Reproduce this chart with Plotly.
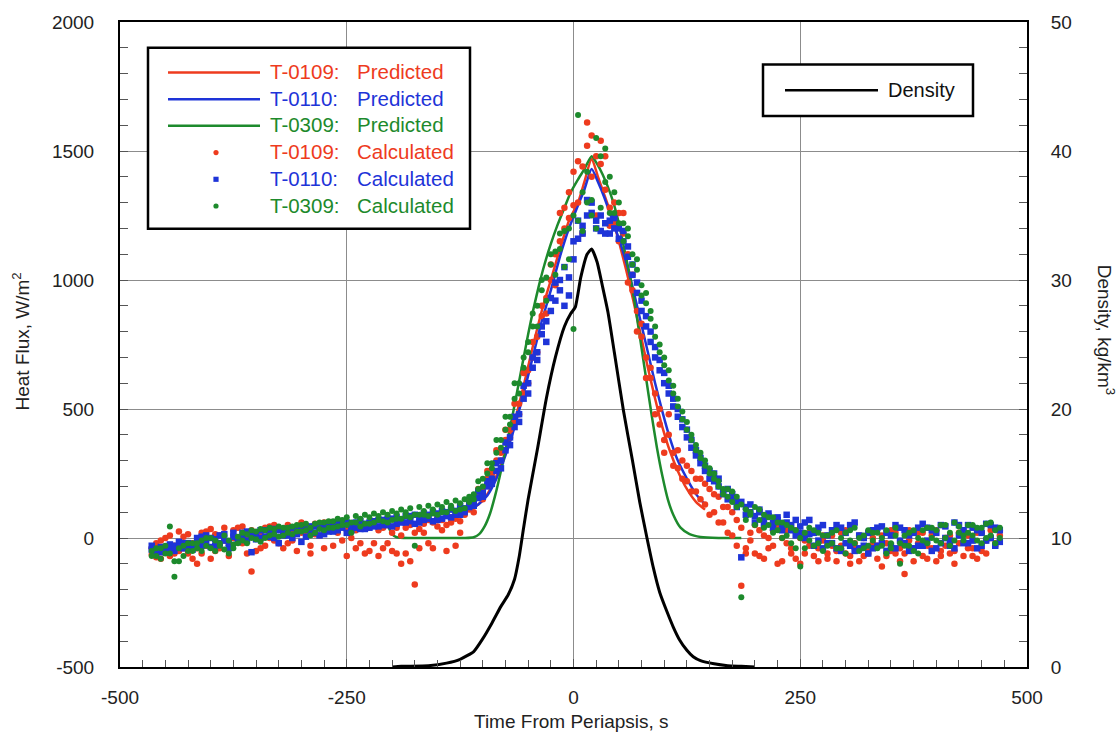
import plotly.graph_objects as go

# ---------------- data ----------------
calc_time = [
    -465, -460, -455, -450, -445, -440, -435, -430, -425, -420,
    -415, -410, -405, -400, -395, -390, -385, -380, -375, -370,
    -365, -360, -355, -350, -345, -340, -335, -330, -325, -320,
    -315, -310, -305, -300, -295, -290, -285, -280, -275, -270,
    -265, -260, -255, -250, -245, -240, -235, -230, -225, -220,
    -215, -210, -205, -200, -195, -190, -185, -180, -175, -170,
    -165, -160, -155, -150, -145, -140, -135, -130, -125, -120,
    -115, -110, -105, -100, -95, -90, -85, -80, -75, -70,
    -65, -60, -55, -50, -45, -40, -35, -30, -25, -20,
    -15, -10, -5, 0, 5, 10, 15, 20, 25, 30,
    35, 40, 45, 50, 55, 60, 65, 70, 75, 80,
    85, 90, 95, 100, 105, 110, 115, 120, 125, 130,
    135, 140, 145, 150, 155, 160, 165, 170, 175, 180,
    185, 190, 195, 200, 205, 210, 215, 220, 225, 230,
    235, 240, 245, 250, 255, 260, 265, 270, 275, 280,
    285, 290, 295, 300, 305, 310, 315, 320, 325, 330,
    335, 340, 345, 350, 355, 360, 365, 370, 375, 380,
    385, 390, 395, 400, 405, 410, 415, 420, 425, 430,
    435, 440, 445, 450, 455, 460, 465, 470,
]

# two readings per sample time (the data show short vertical streaks)
t0109_calc_a = [
    -65, -75, -10, -50, 10, -60, 25, -40, 15, -80,
    -100, 20, -30, 35, -50, 10, 40, -20, 30, -10,
    45, -60, -130, 20, -40, 40, 0, 50, -20, 30,
    50, -10, 40, 60, 20, -30, 55, 10, 60, 30,
    55, 20, 65, 30, 0, -40, 60, -60, 40, -20,
    30, -40, 50, 20, -60, -100, 40, -90, -180, 35,
    55, -20, 60, 45, 70, 50, 80, -30, 65, 90,
    110, 130, 160, 190, 230, 250, 300, 330, 380, 420,
    450, 520, 560, 650, 700, 780, 860, 930, 1000, 1100,
    1260, 1200, 1340, 1420, 1300, 1180, 1610, 1560, 1250, 1540,
    1480, 1210, 1300, 1260, 1180, 1100, 960, 880, 780, 700,
    620, 560, 440, 380, 480, 330, 270, 300, 220, 260,
    180, 230, 130, 190, 100, 160, 60, 120, 10, 70,
    -185, -40, 20, -60, 30, -80, 0, -30, 40, -90,
    -20, -60, 30, -100, -10, 20, -70, -40, 10, -80,
    -30, -90, 20, -60, -100, -20, 10, -70, -40, 0,
    -80, -110, -20, 30, -60, -90, -140, -10, -40, 20,
    -70, -30, 10, -90, -50, 0, -60, -100, -20, 30,
    -40, -70, 20, -50, -10, 30, -20, 10,
]
t0109_calc_b = [
    -40, -20, -80, 0, -70, -30, -50, 5, -60, -20,
    -40, -60, 25, -80, 15, -40, -10, -70, 0, 40,
    -20, 10, 30, -50, 20, -30, 45, -10, 35, -40,
    -20, 30, -50, 20, 45, -60, 15, 45, -40, 55,
    -30, 45, -10, -70, 50, 30, -20, 40, -50, 50,
    -70, 40, -20, -50, 40, 10, -60, 50, 20, -40,
    20, 70, -40, 80, 30, -50, 60, 75, 20, 100,
    140, 100, 190, 150, 260, 220, 340, 300, 420, 390,
    520, 480, 640, 600, 760, 720, 900, 870, 1060, 980,
    1150, 1280, 1240, 1290, 1460, 1440, 1520, 1400, 1480, 1450,
    1350, 1280, 1220, 1150, 1260, 990, 1020, 800, 830, 620,
    660, 480, 500, 330, 400, 280, 340, 230, 280, 180,
    230, 150, 210, 90, 170, 60, 120, 20, 100, -30,
    40, -60, -10, 50, -70, 10, -40, 30, -100, 0,
    30, -40, -80, 0, -60, -30, 20, -90, -10, -60,
    10, -50, -30, 30, -70, -40, -90, 0, -60, -20,
    -30, 10, -70, -50, 20, -40, -60, 30, -90, -20,
    20, -80, -40, 30, -70, -30, 10, -50, 20, -70,
    10, -40, -80, 20, -60, 0, -30, 30,
]

t0110_calc_a = [
    -45, -60, -35, -55, -25, -50, -15, -40, -20, -45,
    0, -30, 10, -35, -5, -20, 15, -40, 5, -15,
    20, -10, -55, 15, 0, 30, 5, 35, -20, 25,
    10, 40, 15, -15, 35, 20, 45, 10, 40, 25,
    50, 30, 55, 20, 45, 60, 35, 55, 40, 65,
    45, 70, 50, 75, 55, 70, 60, 85, 55, 80,
    70, 90, 65, 95, 75, 100, 80, 105, 90, 115,
    120, 140, 155, 175, 200, 230, 260, 300, 340, 390,
    430, 480, 540, 600, 660, 720, 790, 840, 880, 920,
    960, 900, 1010, 1080, 1160, 1210, 1250, 1300, 1230, 1190,
    1220, 1180, 1240, 1200, 1150, 1090, 1020, 950, 880, 820,
    760, 700, 650, 600, 560, 510, 470, 430, 390, 350,
    320, 290, 260, 230, 250, 200, 180, 190, 150, 140,
    -75, 120, 100, 85, 110, 70, 95, 60, 80, 45,
    90, 30, 70, 20, 60, 15, -30, 40, -40, 10,
    -20, 50, -50, 20, -30, 60, -40, 0, -60, 30,
    -30, 45, -50, 10, -40, 40, -20, -50, 20, -30,
    55, -10, 30, -40, 50, 0, -30, 60, 10, -20,
    50, -10, 30, -30, 55, 0, 40, -15,
]
t0110_calc_b = [
    -30, -50, -55, -35, -45, -30, -35, -20, -40, -25,
    -25, 5, -15, 0, -30, 10, -10, -20, 20, -5,
    0, 25, 10, -5, 30, 5, 25, 0, 30, 10,
    35, 0, 30, 40, 5, 45, 20, 40, 15, 50,
    25, 55, 40, 60, 30, 40, 65, 35, 60, 45,
    70, 50, 75, 45, 80, 60, 85, 65, 90, 60,
    95, 75, 100, 70, 105, 85, 110, 90, 125, 100,
    135, 125, 180, 160, 220, 210, 290, 270, 370, 360,
    470, 450, 590, 560, 700, 690, 820, 760, 930, 990,
    1000, 1050, 940, 1150, 1230, 1180, 1310, 1260, 1200, 1250,
    1180, 1230, 1200, 1160, 1190, 1130, 1060, 990, 920, 860,
    800, 740, 690, 640, 590, 540, 500, 460, 420, 380,
    340, 310, 280, 260, 220, 230, 170, 150, 170, 120,
    140, 90, 130, 60, 100, 50, 85, 40, 70, 30,
    60, 50, 10, 45, 0, 70, 20, -10, 50, -20,
    30, -40, 40, -20, 50, -50, 10, -30, 20, -40,
    40, -20, 20, -30, 50, -10, 30, 10, -40, 40,
    -30, 40, -50, 20, -20, 45, -10, -40, 50, 30,
    -20, 40, -40, 20, -10, 50, -30, 30,
]

t0309_calc_a = [
    -50, -70, -40, -60, 45, -150, -90, -30, -50, -20,
    -40, -10, -30, 0, -50, -20, 10, -60, -25, 5,
    -10, 15, 0, 25, -15, 30, 10, 35, 5, 40,
    20, 45, 25, 50, 30, 10, 55, 35, 60, 40,
    65, 45, 70, 50, 20, 60, 75, 55, 80, 60,
    85, 65, 90, 70, 95, 75, 100, 80, -30, 90,
    105, 85, 110, 90, 120, 100, 125, 105, 135, 115,
    140, 170, 190, 230, 250, 290, 330, 380, 420, 470,
    540, 600, 700, 760, 820, 900, 960, 1010, 1060, 1110,
    1180, 1050, 1200, 810, 1640, 1190, 1300, 1250, 1550, 1280,
    1510, 1400, 1260, 1300, 1220, 1170, 1100, 1040, 980, 910,
    850, 780, 720, 670, 610, 560, 510, 460, 420, 380,
    340, 310, 280, 250, 230, 200, 170, 190, 140, 160,
    -230, 110, 90, 120, 70, 90, 50, 80, 30, 60,
    10, 40, -40, -110, 20, -10, 30, -20, 10, -30,
    20, -40, 0, -60, 30, -20, -50, 10, -30, 20,
    -40, 0, -60, -20, 10, -100, -30, 20, -50, 0,
    30, -20, 40, -10, 50, 0, -30, 60, 20, -10,
    50, 10, 40, -20, 55, 10, 30, 0,
]
t0309_calc_b = [
    -70, -40, -80, -30, -60, -90, -40, -70, -20, -50,
    -20, -50, 0, -40, -10, -30, -45, -10, -40, -20,
    20, -20, 30, -5, 35, 0, 40, 15, 45, 10,
    40, 15, 50, 25, 55, 40, 20, 60, 30, 65,
    40, 75, 50, 80, 60, 85, 45, 90, 55, 95,
    70, 100, 60, 105, 75, 110, 85, 115, 90, 120,
    90, 125, 95, 130, 100, 140, 115, 145, 110, 150,
    160, 150, 220, 200, 290, 270, 380, 350, 470, 440,
    600, 560, 660, 720, 870, 820, 1000, 920, 1100, 1020,
    1120, 1190, 1080, 1250, 1230, 1340, 1420, 1310, 1200, 1480,
    1380, 1260, 1340, 1220, 1150, 1200, 1060, 1080, 940, 950,
    880, 820, 750, 700, 650, 590, 540, 490, 450, 400,
    360, 330, 300, 270, 250, 220, 190, 160, 180, 120,
    130, 70, 100, 50, 110, 40, 80, 20, 60, 0,
    50, -20, 30, 0, -40, 40, -30, 20, -50, 10,
    -20, 30, -40, 20, -10, 40, 0, -40, 30, -10,
    20, -30, 30, -40, 40, -20, 10, -30, 30, -60,
    -10, 40, 0, 30, -20, 50, 20, -10, 45, 10,
    20, 50, -10, 40, 0, 60, -20, 40,
]

pred_time_rb = [-115, -105, -95, -85, -75, -65, -55, -45, -35, -25, -15, -5, 5, 12, 20, 27,
                34, 42, 50, 58, 66, 74, 82, 90, 98, 106, 115, 125, 135, 145]
t0109_pred = [110, 130, 170, 240, 330, 450, 590, 740, 880, 1000, 1120, 1230, 1300, 1380, 1470, 1400,
              1330, 1250, 1150, 1040, 920, 790, 660, 540, 430, 340, 260, 190, 140, 110]
t0110_pred = [110, 130, 165, 230, 320, 430, 560, 700, 840, 960, 1090, 1200, 1290, 1350, 1430, 1380,
              1320, 1240, 1160, 1070, 960, 840, 720, 600, 490, 390, 300, 230, 170, 130]

pred_time_g = [-205, -200, -195, -180, -150, -120, -110, -104, -98, -92,
               -86, -80, -74, -68, -62, -56, -50, -44, -38, -32,
               -25, -18, -10, -3, 5, 12, 20, 26, 32, 38,
               44, 50, 56, 62, 68, 74, 80, 86, 92, 98,
               104, 110, 118, 128, 140, 160, 185]
t0309_pred = [50, 15, 3, 0, 0, 0, 3, 15, 45, 95,
              170, 260, 360, 460, 570, 680, 790, 890, 980, 1060,
              1140, 1210, 1280, 1340, 1390, 1430, 1480, 1450, 1410, 1360,
              1300, 1220, 1120, 1020, 900, 760, 620, 480, 350, 240,
              150, 90, 40, 15, 4, 0, 0]

dens_time = [-200, -190, -160, -140, -125, -110, -100, -90, -80, -72, -65, -60, -55, -50, -40,
             -30, -20, -10, -3, 2, 8, 15, 20, 26, 32, 38, 45, 55, 65, 73, 81, 88, 95, 103,
             110, 117, 125, 132, 140, 155, 170, 185, 200]
density = [0.0, 0.05, 0.1, 0.3, 0.6, 1.2, 2.2, 3.4, 4.7, 5.6, 6.8, 8.5, 10.8, 13.0, 16.8,
           20.8, 24.0, 26.4, 27.4, 27.9, 30.2, 32.0, 32.4, 31.4, 29.5, 27.5, 24.4, 19.9, 16.0, 12.8,
           10.0, 7.7, 5.8, 4.3, 3.1, 2.1, 1.3, 0.8, 0.5, 0.25, 0.1, 0.05, 0.0]

x_ticks = [-500, -250, 0, 250, 500]
x_ticktext = ["-500", "-250", "0", "250", "500"]
y_ticks = [-500, 0, 500, 1000, 1500, 2000]
y_ticktext = ["-500", "0", "500", "1000", "1500", "2000"]
y2_ticks = [0, 10, 20, 30, 40, 50]
y2_ticktext = ["0", "10", "20", "30", "40", "50"]

RED = "#ee3b1e"
BLUE = "#1e34d8"
GREEN = "#1d8a2c"
FONT = "Liberation Sans, Arial, Helvetica, sans-serif"

# ---------------- figure ----------------
fig = go.Figure()

fig.add_trace(go.Scatter(x=pred_time_rb, y=t0109_pred, mode="lines",
                         line=dict(color=RED, width=2.5, shape="spline", smoothing=0.6), name="T-0109: Predicted"))
fig.add_trace(go.Scatter(x=pred_time_rb, y=t0110_pred, mode="lines",
                         line=dict(color=BLUE, width=2.5, shape="spline", smoothing=0.6), name="T-0110: Predicted"))
fig.add_trace(go.Scatter(x=pred_time_g, y=t0309_pred, mode="lines",
                         line=dict(color=GREEN, width=2.5, shape="spline", smoothing=0.6), name="T-0309: Predicted"))

fig.add_trace(go.Scatter(x=calc_time + calc_time, y=t0109_calc_a + t0109_calc_b, mode="markers",
                         marker=dict(color=RED, size=6.5, symbol="circle"), name="T-0109: Calculated"))
fig.add_trace(go.Scatter(x=calc_time + calc_time, y=t0110_calc_a + t0110_calc_b, mode="markers",
                         marker=dict(color=BLUE, size=6.5, symbol="square"), name="T-0110: Calculated"))
fig.add_trace(go.Scatter(x=calc_time + calc_time, y=t0309_calc_a + t0309_calc_b, mode="markers",
                         marker=dict(color=GREEN, size=6, symbol="circle"), name="T-0309: Calculated"))

fig.add_trace(go.Scatter(x=dens_time, y=density, mode="lines", yaxis="y2",
                         line=dict(color="black", width=3, shape="spline", smoothing=0.5), name="Density"))

L, R, T, B = 120, 1027, 15, 667
PW, PH = R - L, B - T


def px(xp):
    return (xp - L) / PW


def py(yp):
    return (B - yp) / PH


tickfont = dict(family=FONT, size=19, color="#222222")
common = dict(showline=True, linecolor="black", linewidth=2, ticks="inside", ticklen=8,
              tickcolor="#555555", tickwidth=1, gridcolor="#8c8c8c", gridwidth=1.2,
              zeroline=False, tickfont=tickfont)

fig.update_layout(
    width=1119, height=738,
    margin=dict(l=L, r=1119 - R, t=T, b=738 - B),
    paper_bgcolor="white", plot_bgcolor="white",
    showlegend=False,
    font=dict(family=FONT, size=19, color="#222222"),
    xaxis=dict(range=[-500, 500], tickvals=x_ticks, ticktext=x_ticktext, showgrid=True, mirror=True,
               ticklabelstandoff=12,
               minor=dict(dtick=25, ticks="inside", ticklen=7, tickcolor="#555555", showgrid=False),
               **common),
    yaxis=dict(range=[-500, 2000], tickvals=y_ticks, ticktext=y_ticktext, showgrid=True, ticklabelstandoff=20,
               minor=dict(dtick=100, ticks="inside", ticklen=8, tickcolor="#555555", showgrid=False),
               **common),
    yaxis2=dict(range=[0, 50], tickvals=y2_ticks, ticktext=y2_ticktext, overlaying="y", side="right",
                showgrid=False, ticklabelstandoff=18,
                minor=dict(dtick=2, ticks="inside", ticklen=8, tickcolor="#555555", showgrid=False),
                **common),
)

annotations = []
shapes = []

# axis titles
annotations.append(dict(text="Time From Periapsis, s", x=px(571), y=py(722), xref="paper", yref="paper",
                        showarrow=False, xanchor="center", yanchor="middle",
                        font=dict(family=FONT, size=19, color="#222222")))
annotations.append(dict(text="Heat Flux, W/m<sup>2</sup>", x=px(21), y=py(338), xref="paper", yref="paper",
                        showarrow=False, textangle=-90, xanchor="center", yanchor="middle",
                        font=dict(family=FONT, size=19, color="#222222")))
annotations.append(dict(text="Density, kg/km<sup>3</sup>", x=px(1106), y=py(326), xref="paper", yref="paper",
                        showarrow=False, textangle=90, xanchor="center", yanchor="middle",
                        font=dict(family=FONT, size=19, color="#222222")))

# main legend box
shapes.append(dict(type="rect", xref="paper", yref="paper", x0=px(148), x1=px(470), y0=py(224), y1=py(41),
                   line=dict(color="black", width=2.5), fillcolor="white", layer="above"))
rows = [
    ("T-0109:", "Predicted", RED, "line", None),
    ("T-0110:", "Predicted", BLUE, "line", None),
    ("T-0309:", "Predicted", GREEN, "line", None),
    ("T-0109:", "Calculated", RED, "marker", "circle"),
    ("T-0110:", "Calculated", BLUE, "marker", "square"),
    ("T-0309:", "Calculated", GREEN, "marker", "circle"),
]
row_y = [65, 92, 119, 146, 173, 200]
for (lab, word, col, kind, sym), ry in zip(rows, row_y):
    if kind == "line":
        shapes.append(dict(type="line", xref="paper", yref="paper", x0=px(168), x1=px(260),
                           y0=py(ry + 1), y1=py(ry + 1), line=dict(color=col, width=2.5), layer="above"))
    else:
        r = 2.6
        shapes.append(dict(type="circle" if sym == "circle" else "rect", xref="paper", yref="paper",
                           x0=px(216 - r), x1=px(216 + r), y0=py(ry + 1 + r), y1=py(ry + 1 - r),
                           fillcolor=col, line=dict(color=col, width=0), layer="above"))
    annotations.append(dict(text=lab, x=px(268), y=py(ry), xref="paper", yref="paper", showarrow=False,
                            xanchor="left", yanchor="middle", font=dict(family=FONT, size=20.5, color=col)))
    annotations.append(dict(text=word, x=px(355), y=py(ry), xref="paper", yref="paper", showarrow=False,
                            xanchor="left", yanchor="middle", font=dict(family=FONT, size=20.5, color=col)))

# density legend box
shapes.append(dict(type="rect", xref="paper", yref="paper", x0=px(763), x1=px(973), y0=py(110), y1=py(58),
                   line=dict(color="black", width=2.5), fillcolor="white", layer="above"))
shapes.append(dict(type="line", xref="paper", yref="paper", x0=px(785), x1=px(878), y0=py(84), y1=py(84),
                   line=dict(color="black", width=2.5), layer="above"))
annotations.append(dict(text="Density", x=px(886), y=py(84), xref="paper", yref="paper", showarrow=False,
                        xanchor="left", yanchor="middle", font=dict(family=FONT, size=20, color="#111111")))

fig.update_layout(annotations=annotations, shapes=shapes)

fig.write_html("out.html", config={"displayModeBar": False},
               post_script="document.body.style.margin='0';document.body.style.overflow='hidden';")
